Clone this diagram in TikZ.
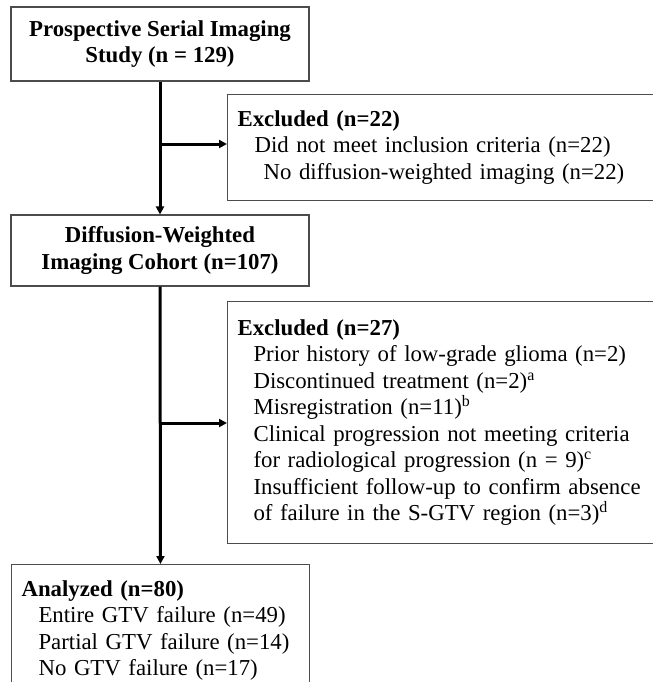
\documentclass[tikz,border=0pt]{standalone}
\usepackage{fontspec}
\setmainfont{Liberation Serif}
\usetikzlibrary{arrows.meta, positioning, calc}
\newcommand{\flowfont}{\fontsize{11.4pt}{13.25pt}\selectfont}

\begin{document}
\begin{tikzpicture}[x=0.5pt, y=-0.5pt,
    flowbox/.style={draw=black!70, line width=0.55pt, inner sep=0pt, font=\flowfont},
    stagebox/.style={flowbox, font=\flowfont\bfseries, align=center, minimum width=149pt},
    listbox/.style={flowbox, anchor=north west, align=left, inner xsep=5pt, inner ysep=8pt},
    flowline/.style={line width=1.5pt, -{Triangle[length=4pt, width=4pt]}}]
  \useasboundingbox (0,0) rectangle (653,682);

  % main stages
  \node[stagebox, minimum height=37pt] (study) at (160,44)
    {Prospective Serial Imaging\\Study (n = 129)};
  \node[stagebox, minimum height=35.5pt] (dwi) at (160,250.5)
    {Diffusion-Weighted\\Imaging Cohort (n=107)};
  \node[listbox, text width=139pt] (analyzed) at (11,564)
    {\textbf{Analyzed (n=80)}\\
     \hspace*{8.5pt}Entire GTV failure (n=49)\\
     \hspace*{8.5pt}Partial GTV failure (n=14)\\
     \hspace*{8.5pt}No GTV failure (n=17)};

  % exclusions
  \node[listbox, text width=215pt, minimum height=51.5pt] (excl1) at (227,94)
    {\textbf{Excluded (n=22)}\\
     \hspace*{8.5pt}Did not meet inclusion criteria (n=22)\\
     \hspace*{13pt}No diffusion-weighted imaging (n=22)};
  \node[listbox, text width=215pt, minimum height=121pt] (excl2) at (227,301)
    {\textbf{Excluded (n=27)}\\
     \hspace*{8pt}Prior history of low-grade glioma (n=2)\\
     \hspace*{8pt}Discontinued treatment (n=2)\textsuperscript{a}\\
     \hspace*{8pt}Misregistration (n=11)\textsuperscript{b}\\
     \hspace*{8pt}Clinical progression not meeting criteria\\
     \hspace*{8pt}for radiological progression (n = 9)\textsuperscript{c}\\
     \hspace*{8pt}Insufficient follow-up to confirm absence\\
     \hspace*{8pt}of failure in the S-GTV region (n=3)\textsuperscript{d}};

  % connectors
  \coordinate (split1) at (160,144);
  \coordinate (split2) at (160,423);
  \draw[flowline] (study) -- (dwi);
  \draw[flowline] (dwi) -- (analyzed);
  \draw[flowline] (split1) -- (split1 -| excl1.west);
  \draw[flowline] (split2) -- (split2 -| excl2.west);
\end{tikzpicture}
\end{document}
